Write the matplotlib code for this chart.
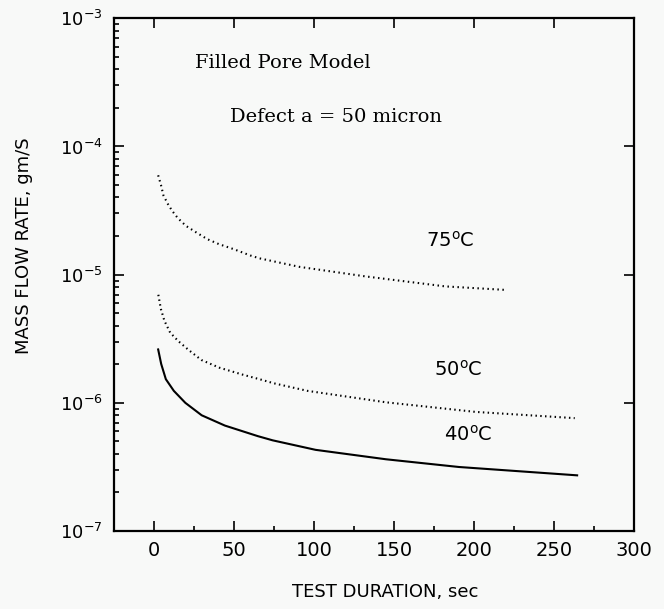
import numpy as np
import matplotlib
matplotlib.use('Agg')
import matplotlib.pyplot as plt
import matplotlib.ticker as ticker

# values (time in sec, mass flow in gm/S)
t75 = [2.6, 4.4, 5.9, 8.6, 11.3, 14.9, 20, 26.8, 33.4, 40.6, 49.9, 60.3,
       66, 91, 132, 182, 220]
m75 = [5.96e-5, 4.98e-5, 4.15e-5, 3.57e-5, 3.15e-5, 2.76e-5, 2.4e-5, 2.12e-5,
       1.89e-5, 1.73e-5, 1.58e-5, 1.41e-5, 1.34e-5, 1.15e-5, 9.7e-6, 8.1e-6,
       7.6e-6]

t50 = [2.7, 4.3, 6.5, 10.1, 15.2, 21.4, 29.6, 40.9, 55.4, 66.7, 75, 96, 145,
       201, 263]
m50 = [6.97e-6, 5.4e-6, 4.37e-6, 3.53e-6, 3.03e-6, 2.6e-6, 2.16e-6, 1.88e-6,
       1.66e-6, 1.52e-6, 1.42e-6, 1.24e-6, 1.01e-6, 8.5e-7, 7.6e-7]

t40 = [2.6, 4.5, 7.4, 12.4, 19.6, 29.8, 44.3, 64.9, 74.2, 101, 145, 190.6,
       264.5]
m40 = [2.61e-6, 2.01e-6, 1.53e-6, 1.24e-6, 1.0e-6, 8.0e-7, 6.65e-7, 5.5e-7,
       5.1e-7, 4.3e-7, 3.63e-7, 3.16e-7, 2.72e-7]

x_ticks = [0, 50, 100, 150, 200, 250, 300]
bg = '#f8f9f8'

fig = plt.figure(figsize=(6.64, 6.09), dpi=100, facecolor=bg)
ax = fig.add_axes([0.1717, 0.128, 0.783, 0.842], facecolor=bg)

ax.plot(t75, m75, color='black', lw=1.5, linestyle=(0, (0.7, 1.7)))
ax.plot(t50, m50, color='black', lw=1.5, linestyle=(0, (0.7, 1.6)))
ax.plot(t40, m40, color='black', lw=1.5, linestyle='-')

ax.set_yscale('log')
ax.set_xlim(-25, 300)
ax.set_ylim(1e-7, 1e-3)

ax.xaxis.set_major_locator(ticker.FixedLocator(x_ticks))
ax.xaxis.set_minor_locator(ticker.MultipleLocator(25))
ax.yaxis.set_major_locator(ticker.LogLocator(base=10, numticks=10))
ax.yaxis.set_minor_locator(ticker.LogLocator(base=10, subs=np.arange(2, 10), numticks=10))
ax.yaxis.set_minor_formatter(ticker.NullFormatter())

ax.tick_params(which='both', direction='in', color='black', width=1.2)
ax.tick_params(which='major', length=7)
ax.tick_params(which='minor', length=3.5)
ax.tick_params(axis='x', which='major', top=True, labelsize=14, pad=7)
ax.tick_params(axis='y', which='major', right=True, labelsize=13, pad=8)
ax.tick_params(axis='x', which='minor', top=False)
ax.tick_params(axis='y', which='minor', right=False)

for s in ax.spines.values():
    s.set_linewidth(1.6)

ax.set_xlabel('TEST DURATION, sec', fontsize=13)
ax.xaxis.set_label_coords(0.521, -0.101)
ax.set_ylabel('MASS FLOW RATE, gm/S', fontsize=13)
ax.yaxis.set_label_coords(-0.156, 0.557)

serif = ['DejaVu Serif']
ax.text(0.156, 0.912, 'Filled Pore Model', transform=ax.transAxes,
        fontsize=14, family=serif, ha='left', va='center')
ax.text(0.223, 0.807, 'Defect a = 50 micron', transform=ax.transAxes,
        fontsize=14, family=serif, ha='left', va='center')

ax.text(0.646, 0.567, r'75$^{\rm o}$C', transform=ax.transAxes,
        fontsize=14, ha='center', va='center')
ax.text(0.662, 0.314, r'50$^{\rm o}$C', transform=ax.transAxes,
        fontsize=14, ha='center', va='center')
ax.text(0.681, 0.187, r'40$^{\rm o}$C', transform=ax.transAxes,
        fontsize=14, ha='center', va='center')

fig.savefig('out.png', dpi=100, facecolor=bg)
